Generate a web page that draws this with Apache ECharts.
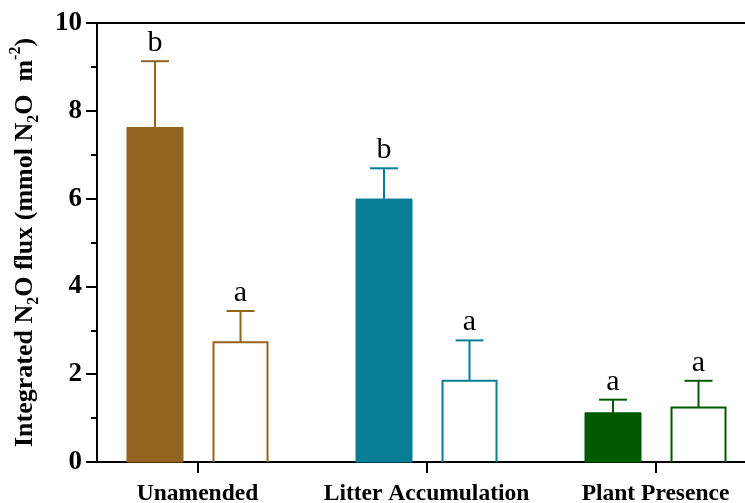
<!DOCTYPE html>
<html>
<head>
<meta charset="utf-8">
<script src="https://cdn.jsdelivr.net/npm/echarts@6/dist/echarts.min.js"></script>
<style>html,body{margin:0;padding:0;background:#fff}#c{width:745px;height:503px}</style>
</head>
<body>
<div id="c"></div>
<script>
// ---- data ----
const categories = ['Unamended', 'Litter Accumulation', 'Plant Presence'];
const filledMeans = [7.62, 5.99, 1.12];
const filledSE = [1.51, 0.70, 0.30];
const filledLetters = ['b', 'b', 'a'];
const openMeans = [2.73, 1.85, 1.24];
const openSE = [0.71, 0.92, 0.61];
const openLetters = ['a', 'a', 'a'];
const yTicks = [0, 2, 4, 6, 8, 10];

const colors = ['#93641f', '#087e96', '#005a00'];
const FONT = '"Liberation Serif", "Times New Roman", serif';

const chart = echarts.init(document.getElementById('c'), null, {renderer: 'canvas'});

function makeRender(offset, filled, letters) {
  return function (params, api) {
    const i = api.value(0);
    const v = api.value(1);
    const se = api.value(2);
    const col = colors[i];
    const x = i + offset;
    const halfW = 0.1223;
    const p0 = api.coord([x - halfW, v]);
    const p1 = api.coord([x + halfW, 0]);
    const top = api.coord([x, v + se]);
    const capHalf = api.size([0.061, 0])[0];
    const children = [];
    if (filled) {
      children.push({type: 'rect', shape: {x: p0[0], y: p0[1], width: p1[0] - p0[0], height: p1[1] - p0[1]},
        style: {fill: col, stroke: col, lineWidth: 1}});
    } else {
      children.push({type: 'polyline', shape: {points: [[p0[0] + 1, p1[1]], [p0[0] + 1, p0[1]], [p1[0] - 1, p0[1]], [p1[0] - 1, p1[1]]]},
        style: {fill: null, stroke: col, lineWidth: 2}});
    }
    children.push({type: 'line', shape: {x1: top[0], y1: p0[1], x2: top[0], y2: top[1]}, style: {stroke: col, lineWidth: 2}});
    children.push({type: 'line', shape: {x1: top[0] - capHalf, y1: top[1], x2: top[0] + capHalf, y2: top[1]}, style: {stroke: col, lineWidth: 2}});
    children.push({type: 'text', x: top[0], y: top[1] - 3,
      style: {text: letters[i], fill: '#000', font: '30px ' + FONT, align: 'center', verticalAlign: 'bottom'}});
    return {type: 'group', children: children};
  };
}

const xMin = -0.4389, xMax = 2.3908;

chart.setOption({
  animation: false,
  grid: {left: 97, right: 0, top: 23, bottom: 41, outerBoundsMode: 'none', containLabel: false},
  xAxis: [{
    type: 'value', min: xMin, max: xMax,
    splitLine: {show: false},
    axisLine: {show: true, onZero: false, lineStyle: {color: '#000', width: 2}},
    axisTick: {show: true, length: 11, customValues: [0, 1, 2], lineStyle: {color: '#000', width: 2}},
    axisLabel: {show: true, customValues: [0, 1, 2], margin: 20,
      formatter: v => categories[Math.round(v)] || '',
      color: '#000', fontFamily: FONT, fontWeight: 'bold', fontSize: 23.5}
  }, {
    type: 'value', min: xMin, max: xMax, position: 'top',
    splitLine: {show: false},
    axisLine: {show: true, onZero: false, lineStyle: {color: '#000', width: 2}},
    axisTick: {show: false}, axisLabel: {show: false}
  }],
  yAxis: {
    type: 'value', min: 0, max: 10, interval: 2,
    splitLine: {show: false},
    axisLine: {show: true, onZero: false, lineStyle: {color: '#000', width: 2}},
    axisTick: {show: true, length: 11, lineStyle: {color: '#000', width: 2}},
    minorTick: {show: true, splitNumber: 2, length: 6, lineStyle: {color: '#000', width: 2}},
    axisLabel: {margin: 15, color: '#000', fontFamily: FONT, fontWeight: 'bold', fontSize: 27,
      formatter: v => yTicks.indexOf(v) >= 0 ? String(v) : ''},
    name: '{t|Integrated N}{s|2}{t|O flux (mmol N}{s|2}{t|O  m}{p|-2}{t|)}',
    nameLocation: 'middle', nameGap: 55, nameRotate: 90,
    nameTextStyle: {
      rich: {
        t: {fontFamily: FONT, fontWeight: 'bold', fontSize: 26, color: '#000', lineHeight: 34},
        s: {fontFamily: FONT, fontWeight: 'bold', fontSize: 16, color: '#000', verticalAlign: 'bottom'},
        p: {fontFamily: FONT, fontWeight: 'bold', fontSize: 16, color: '#000', verticalAlign: 'top'}
      }
    }
  },
  series: [{
    type: 'custom', renderItem: makeRender(-0.1856, true, filledLetters),
    data: filledMeans.map((v, i) => [i, v, filledSE[i]]), clip: false
  }, {
    type: 'custom', renderItem: makeRender(0.1878, false, openLetters),
    data: openMeans.map((v, i) => [i, v, openSE[i]]), clip: false
  }]
});
</script>
</body>
</html>
